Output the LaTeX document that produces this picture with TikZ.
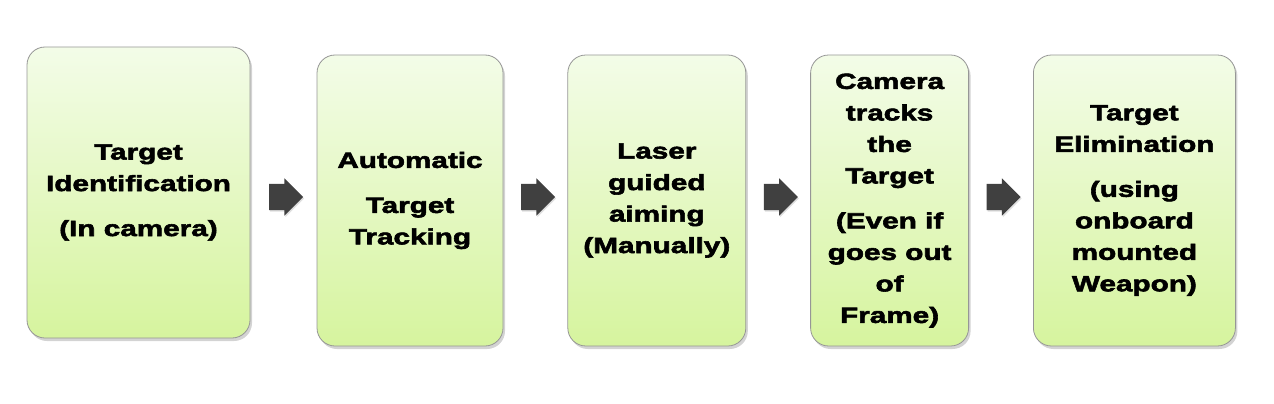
\documentclass[tikz,border=0pt]{standalone}
\usepackage{fontspec}
\setmainfont{Liberation Sans}
\newfontfamily\heavyfont[FakeStretch=1.35,FakeBold=2.6]{Liberation Sans}
\usetikzlibrary{
	shapes.arrows,
	shadows,
	positioning,
	calc
}
\definecolor{boxtop}{RGB}{243,252,232}
\definecolor{boxbottom}{RGB}{214,244,158}
\definecolor{boxline}{RGB}{150,150,150}
\definecolor{arrowgray}{RGB}{64,64,64}

\begin{document}
\begin{tikzpicture}[
				x=1pt, y=-1pt,
				stage/.style={
					rectangle, draw=boxline, line width=0.8pt,
					rounded corners=18pt,
					top color=boxtop, bottom color=boxbottom,
					drop shadow={shadow xshift=2pt, shadow yshift=-3pt, opacity=0.35, fill=gray},
					minimum height=291pt, inner sep=0pt,
					align=center,
					font=\heavyfont\bfseries\fontsize{22}{31.5}\selectfont
				},
				blockarrow/.style={
					single arrow, draw=none, fill=arrowgray,
					drop shadow={shadow xshift=1pt, shadow yshift=-1.5pt, opacity=0.25, fill=gray},
					minimum width=37pt, minimum height=34pt,
					single arrow head extend=5.5pt,
					inner xsep=0pt, inner ysep=13pt,
					xshift=-4pt
				}
				]
				
				% canvas
				\useasboundingbox (0,0) rectangle (1274,404);
				
				% identification
				\node[stage, minimum width=223pt] (identify) at (138.5,192.5)
					{Target\\Identification\\[13.5pt](In camera)};
				
				% tracking
				\node[stage, minimum width=186pt] (track) at (410,200.5)
					{Automatic\\[13.5pt]Target\\Tracking};
				
				% aiming
				\node[stage, minimum width=178pt, right=64pt of track] (aim)
					{Laser\\guided\\aiming\\(Manually)};
				
				% follow target
				\node[stage, minimum width=158pt, right=64pt of aim] (follow)
					{Camera\\tracks\\the\\Target\\[13.5pt](Even if\\goes out\\of\\Frame)};
				
				% elimination
				\node[stage, minimum width=202pt, right=64pt of follow] (eliminate)
					{Target\\Elimination\\[13.5pt](using\\onboard\\mounted\\Weapon)};
				
				% block arrows between stages
				\node[blockarrow] (a1) at ($(identify.east |- 0,197)!0.5!(track.west |- 0,197)$) {};
				\node[blockarrow] (a2) at ($(track.east |- 0,197)!0.5!(aim.west |- 0,197)$) {};
				\node[blockarrow] (a3) at ($(aim.east |- 0,197)!0.5!(follow.west |- 0,197)$) {};
				\node[blockarrow] (a4) at ($(follow.east |- 0,197)!0.5!(eliminate.west |- 0,197)$) {};
			\end{tikzpicture}
\end{document}
